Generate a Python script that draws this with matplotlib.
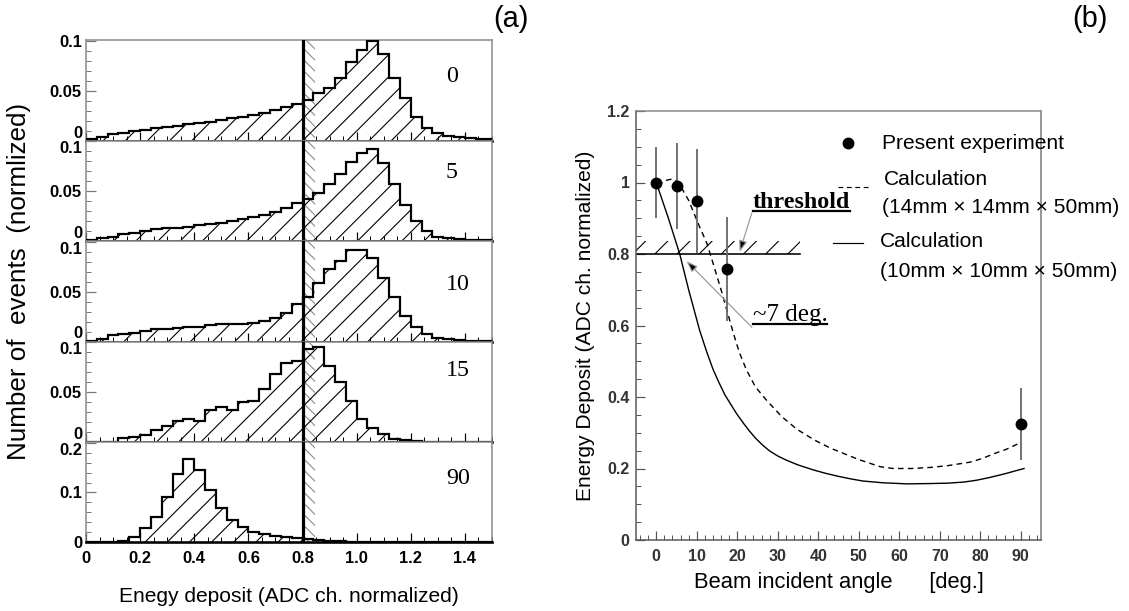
import numpy as np
import matplotlib
matplotlib.use('Agg')
import matplotlib.pyplot as plt
from matplotlib.ticker import MultipleLocator, FixedLocator
from matplotlib.lines import Line2D

# ---------------- data ----------------
bin_edges = np.round(np.arange(0.0, 1.52 + 1e-9, 0.04), 2)
threshold = 0.8
hist_angles = ['0', '5', '10', '15', '90']
hist_0 = [0.002, 0.004, 0.0066, 0.008, 0.0097, 0.011, 0.013, 0.014, 0.015, 0.0167,
          0.0177, 0.019, 0.021, 0.023, 0.024, 0.026, 0.028, 0.0305, 0.034, 0.037,
          0.041, 0.048, 0.053, 0.063, 0.079, 0.091, 0.1, 0.087, 0.063, 0.043,
          0.024, 0.013, 0.008, 0.005, 0.004, 0.003, 0.002, 0.002]
hist_5 = [0.001, 0.003, 0.004, 0.007, 0.008, 0.010, 0.012, 0.013, 0.0135, 0.0145,
          0.016, 0.017, 0.0185, 0.020, 0.022, 0.024, 0.026, 0.029, 0.033, 0.038,
          0.042, 0.048, 0.057, 0.067, 0.079, 0.088, 0.092, 0.078, 0.057, 0.036,
          0.020, 0.010, 0.004, 0.003, 0.002, 0.0015, 0.001, 0.001]
hist_10 = [0.001, 0.003, 0.007, 0.008, 0.009, 0.011, 0.0125, 0.013, 0.0135, 0.0145,
           0.015, 0.017, 0.0175, 0.0175, 0.018, 0.019, 0.021, 0.024, 0.029, 0.038,
           0.045, 0.059, 0.073, 0.081, 0.092, 0.092, 0.084, 0.064, 0.045, 0.026,
           0.0145, 0.008, 0.0035, 0.0025, 0.002, 0.001, 0.001, 0.001]
hist_15 = [0.0, 0.0, 0.0, 0.004, 0.005, 0.007, 0.012, 0.016, 0.021, 0.023,
           0.0215, 0.032, 0.035, 0.032, 0.040, 0.041, 0.053, 0.068, 0.079, 0.081,
           0.093, 0.095, 0.076, 0.060, 0.041, 0.023, 0.014, 0.008, 0.003, 0.002,
           0.001, 0.0005, 0.0005, 0.0, 0.0, 0.0, 0.0, 0.0]
hist_90 = [0.0, 0.0, 0.0, 0.003, 0.011, 0.028, 0.051, 0.090, 0.138, 0.167,
           0.146, 0.106, 0.068, 0.045, 0.030, 0.021, 0.017, 0.013, 0.011, 0.009,
           0.007, 0.005, 0.003, 0.002, 0.001, 0.001, 0.0005, 0.0, 0.0, 0.0,
           0.0, 0.0, 0.0, 0.0, 0.0, 0.0, 0.0, 0.0]
hist_ymax = [0.1, 0.1, 0.1, 0.1, 0.2]
hist_xticklabels = ['0', '0.2', '0.4', '0.6', '0.8', '1.0', '1.2', '1.4']

exp_angle = [0, 5, 10, 17.5, 90]
exp_edep = [1.0, 0.99, 0.948, 0.758, 0.325]
exp_err = [0.10, 0.12, 0.145, 0.145, 0.10]

calc14_angle = [0.5, 2, 4, 5.5, 8, 10.7, 12.5, 14, 16, 19, 20.5, 22.3, 24.5, 27.3,
                31, 34.7, 39, 43, 50, 55.3, 58.5, 63, 67.7, 72, 77.6, 80.5, 83.3,
                86.5, 89.5]
calc14_edep = [0.99, 1.005, 1.01, 1.0, 0.95, 0.876, 0.83, 0.775, 0.70, 0.58, 0.525,
               0.475, 0.428, 0.39, 0.345, 0.31, 0.28, 0.257, 0.225, 0.205, 0.2, 0.2,
               0.203, 0.208, 0.218, 0.228, 0.241, 0.254, 0.27]
calc10_angle = [0, 3, 5.8, 8, 10.7, 12.5, 14, 15.5, 17, 19.8, 21.5, 23, 24.5, 26.3,
                28, 30, 32, 35, 38.8, 42, 45, 48, 51, 56, 62, 68, 72, 75.9, 79, 82,
                86, 90.8]
calc10_edep = [1.0, 0.9, 0.8, 0.70, 0.587, 0.525, 0.478, 0.44, 0.405, 0.354, 0.327,
               0.305, 0.285, 0.265, 0.249, 0.235, 0.224, 0.21, 0.196, 0.186, 0.178,
               0.171, 0.165, 0.16, 0.157, 0.158, 0.159, 0.162, 0.167, 0.174, 0.185, 0.2]
right_yticklabels = ['0', '0.2', '0.4', '0.6', '0.8', '1', '1.2']

# ---------------- figure ----------------
W, H, DPI = 1129, 611, 133
def pt(v):
    return v * 72.0 / DPI

plt.rcParams['font.family'] = ['Liberation Sans', 'DejaVu Sans']
plt.rcParams['hatch.linewidth'] = 0.6
fig = plt.figure(figsize=(W / DPI, H / DPI), dpi=DPI)

def box(l, t, r, b):
    return [l / W, 1 - b / H, (r - l) / W, (b - t) / H]

# ---------- left: stacked histograms ----------
L, R = 86, 492
tops = [40, 140.5, 241, 341.5, 442]
bot = 542
hists = [hist_0, hist_5, hist_10, hist_15, hist_90]
label_yfrac = [0.64, 0.68, 0.57, 0.71, 0.64]
for i, (vals, ang, ymax) in enumerate(zip(hists, hist_angles, hist_ymax)):
    t = tops[i]
    b = tops[i + 1] if i < 4 else bot
    ax = fig.add_axes(box(L, t, R, b))
    ax.set_xlim(0, 1.5)
    ax.set_ylim(0, ymax * 1.01)
    ax.axvspan(threshold, threshold + 0.046, facecolor='none', edgecolor='#8a8a8a',
               hatch='\\\\\\\\', lw=0, zorder=1)
    ax.stairs(vals, bin_edges, fill=True, facecolor='none', edgecolor='black',
              hatch='//', lw=0, zorder=2)
    ax.stairs(vals, bin_edges, color='black', lw=pt(2.2), zorder=3)
    ax.axvline(threshold, color='black', lw=pt(3.2), zorder=4)
    ax.text(1.33, label_yfrac[i], ang, transform=ax.get_xaxis_transform(),
            ha='left', va='center', fontsize=pt(24), family='Liberation Serif')
    for s in ['left', 'right', 'top']:
        ax.spines[s].set_color('#888888')
        ax.spines[s].set_linewidth(pt(1.5))
    ax.spines['bottom'].set_color('black')
    ax.spines['bottom'].set_linewidth(pt(2.6))
    ax.spines['bottom'].set_zorder(5)
    ax.xaxis.set_major_locator(MultipleLocator(0.2))
    ax.xaxis.set_minor_locator(MultipleLocator(0.05))
    step = ymax / 2
    ax.yaxis.set_major_locator(FixedLocator([0, step, ymax]))
    ax.yaxis.set_minor_locator(MultipleLocator(ymax / 10))
    ax.set_yticklabels(['0', f'{step:g}', f'{ymax:g}'])
    ax.tick_params(axis='both', which='both', direction='in', top=False, right=False)
    ax.tick_params(axis='x', which='major', length=pt(9), width=pt(1.2), color='black')
    ax.tick_params(axis='x', which='minor', length=pt(5), width=pt(1.0), color='black')
    ax.tick_params(axis='y', which='major', length=pt(10), width=pt(1.2), color='#777777')
    ax.tick_params(axis='y', which='minor', length=pt(5), width=pt(1.0), color='#777777')
    ax.tick_params(axis='y', labelsize=pt(16.5), pad=pt(4))
    ylabs = ax.get_yticklabels()
    for lab in ylabs:
        lab.set_fontweight('bold')
    if i < 4:
        ylabs[0].set_verticalalignment('bottom')
    if i > 0:
        ylabs[-1].set_verticalalignment('top')
    if i < 4:
        ax.set_xticklabels([])
    else:
        ax.set_xticks(np.round(np.arange(0, 1.41, 0.2), 1))
        ax.set_xticklabels(hist_xticklabels)
        ax.tick_params(axis='x', labelsize=pt(16.5), pad=pt(9))
        for lab in ax.get_xticklabels():
            lab.set_fontweight('bold')

fig.text(289 / W, 1 - 597 / H, 'Enegy deposit (ADC ch. normalized)',
         ha='center', va='center', fontsize=pt(21))
fig.text(19 / W, 1 - 281 / H, 'Number of  events  (normlized)', rotation=90,
         ha='center', va='center', fontsize=pt(26))
fig.text(511 / W, 1 - 19 / H, '(a)', ha='center', va='center', fontsize=pt(29))
fig.text(1090 / W, 1 - 19 / H, '(b)', ha='center', va='center', fontsize=pt(29))

# ---------- right: energy deposit vs angle ----------
axb = fig.add_axes(box(636, 111, 1041, 540))
axb.set_xlim(-5, 95)
axb.set_ylim(0, 1.2)

# threshold band
axb.fill_between([-5, 35.5], threshold, threshold + 0.035, facecolor='none',
                 edgecolor='black', hatch='//', lw=0, zorder=1)
axb.plot([-5, 35.5], [threshold, threshold], color='black', lw=pt(1.6), zorder=2)

axb.plot(calc14_angle, calc14_edep, color='black', lw=pt(1.4), ls=(0, (4, 3)), zorder=3)
axb.plot(calc10_angle, calc10_edep, color='black', lw=pt(1.4), zorder=3)
axb.errorbar(exp_angle, exp_edep, yerr=exp_err, fmt='o', color='black', ms=pt(10),
             ecolor='#666666', elinewidth=pt(1.8), capsize=0, zorder=4)

axb.spines['right'].set_color('#777777')
axb.spines['top'].set_color('#888888')
axb.spines['top'].set_linestyle((0, (3, 1)))
axb.spines['left'].set_color('#555555')
axb.spines['bottom'].set_color('#555555')
for s in axb.spines.values():
    s.set_linewidth(pt(1.5))
axb.xaxis.set_major_locator(FixedLocator(list(range(0, 91, 10))))
axb.xaxis.set_minor_locator(MultipleLocator(2))
axb.yaxis.set_major_locator(FixedLocator([0, 0.2, 0.4, 0.6, 0.8, 1.0, 1.2]))
axb.yaxis.set_minor_locator(MultipleLocator(0.05))
axb.set_yticklabels(right_yticklabels)
axb.tick_params(axis='both', which='both', direction='in', top=False, right=False,
                color='#555555')
axb.tick_params(axis='both', which='major', length=pt(9), width=pt(1.2))
axb.tick_params(axis='both', which='minor', length=pt(5), width=pt(1.0))
axb.tick_params(axis='both', labelsize=pt(16), labelcolor='#333333')
axb.tick_params(axis='x', pad=pt(9))
for lab in axb.get_xticklabels() + axb.get_yticklabels():
    lab.set_fontweight('bold')
axb.set_xlabel('Beam incident angle      [deg.]', fontsize=pt(22), labelpad=pt(8))
axb.set_ylabel('Energy Deposit (ADC ch. normalized)', fontsize=pt(21), labelpad=pt(12))

# legend (drawn as text, overflowing the frame as in the original)
axb.plot([47.4], [1.11], 'o', color='black', ms=pt(10), clip_on=False)
axb.text(55.8, 1.11, 'Present experiment', fontsize=pt(21), va='center', clip_on=False)
axb.plot([44.9, 52.3], [0.987, 0.987], color='black', lw=pt(1.2), ls=(0, (4, 3)))
axb.text(56.2, 1.007, 'Calculation', fontsize=pt(21), va='center', clip_on=False)
axb.text(55.8, 0.929, '(14mm × 14mm × 50mm)', fontsize=pt(21), va='center', clip_on=False)
axb.plot([43.7, 51.1], [0.831, 0.831], color='black', lw=pt(1.2))
axb.text(55.3, 0.834, 'Calculation', fontsize=pt(21), va='center', clip_on=False)
axb.text(55.3, 0.75, '(10mm × 10mm × 50mm)', fontsize=pt(21), va='center', clip_on=False)

# annotations
t1 = axb.text(23.8, 0.945, 'threshold', fontsize=pt(24), fontweight='bold',
              family='Liberation Serif', va='center', ha='left')
t2 = axb.text(23.8, 0.63, '~7 deg.', fontsize=pt(25), family='Liberation Serif',
              va='center', ha='left')
axb.annotate('', xy=(20.6, 0.806), xytext=(23.6, 0.915),
             arrowprops=dict(arrowstyle='-|>,head_length=0.5,head_width=0.18',
                             fc='black', ec='#999999', lw=pt(1.2), shrinkA=0, shrinkB=0))
axb.annotate('', xy=(7.5, 0.78), xytext=(23.6, 0.595),
             arrowprops=dict(arrowstyle='-|>,head_length=0.5,head_width=0.18',
                             fc='black', ec='#999999', lw=pt(1.2), shrinkA=0, shrinkB=0))

# underline the two annotation texts
fig.canvas.draw()
rend = fig.canvas.get_renderer()
for t in (t1, t2):
    bb = t.get_window_extent(rend)
    y = bb.y0 + 1.5
    fig.add_artist(Line2D([bb.x0 / W, bb.x1 / W], [y / H, y / H], color='black',
                          lw=pt(2.2), transform=fig.transFigure))

fig.savefig('out.png', dpi=DPI)
